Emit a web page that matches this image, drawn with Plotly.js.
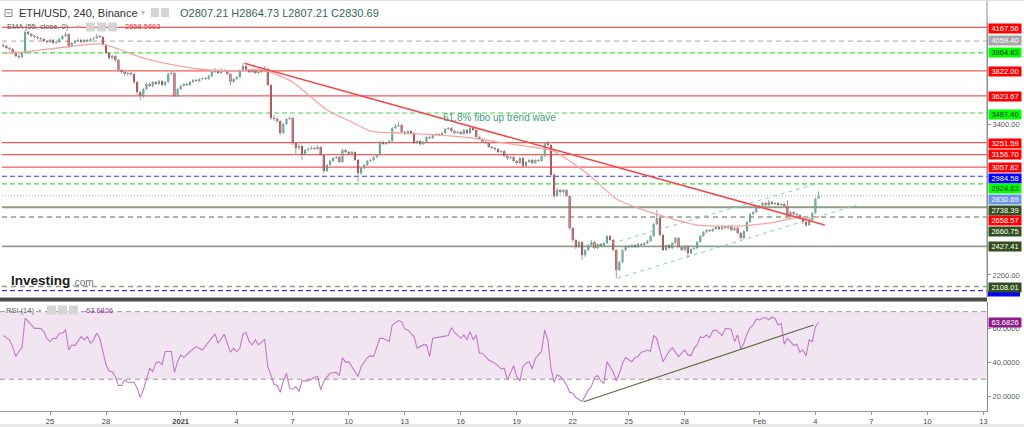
<!DOCTYPE html>
<html><head><meta charset="utf-8">
<script src="https://cdn.plot.ly/plotly-3.0.1.min.js"></script>
<style>html,body{margin:0;padding:0;background:#fff}#chart{width:1024px;height:427px}</style>
</head><body><div id="chart"></div>
<script>
// ---------- DATA ----------
const symbolTitle = 'ETH/USD, 240, Binance';
const firstBarUTC = [2020, 11, 22, 12]; // first 4h bar: 2020-12-22 12:00
const barHours = 4;

const open = [
4028,4020,4004,3996,3972,3940,3932,3964,4131,4115,
4099,4091,4083,4075,4060,4052,4068,4044,4052,4075,
4099,4115,4020,4044,4060,4068,4052,4068,4060,4075,
4083,4099,4091,4028,3964,3924,3940,3909,3829,3813,
3797,3805,3797,3734,3654,3622,3678,3718,3702,3734,
3718,3742,3710,3734,3797,3805,3622,3678,3702,3718,
3710,3734,3750,3742,3758,3765,3758,3781,3813,3829,
3805,3829,3821,3797,3734,3758,3773,3829,3861,3829,
3813,3821,3805,3813,3821,3837,3710,3448,3440,3424,
3328,3400,3440,3448,3249,3209,3225,3154,3193,3201,
3209,3201,3217,3154,3026,3074,3106,3130,3138,3098,
3193,3177,3162,3177,3114,3010,3050,3074,3106,3114,
3138,3154,3257,3241,3249,3265,3368,3384,3392,3336,
3328,3344,3328,3249,3265,3241,3257,3297,3289,3313,
3320,3313,3328,3360,3368,3344,3328,3336,3320,3352,
3328,3368,3352,3297,3281,3257,3249,3217,3209,3201,
3177,3185,3146,3130,3138,3106,3090,3130,3066,3098,
3114,3090,3114,3106,3146,3249,3233,2995,2828,2875,
2860,2875,2828,2573,2478,2422,2462,2358,2398,2438,
2462,2414,2446,2430,2454,2509,2478,2398,2239,2303,
2398,2430,2422,2438,2422,2446,2438,2454,2470,2509,
2605,2653,2517,2398,2438,2414,2454,2494,2422,2398,
2430,2374,2406,2414,2462,2509,2541,2557,2549,2565,
2581,2565,2581,2573,2589,2557,2573,2533,2494,2549,
2621,2684,2700,2732,2748,2772,2756,2780,2764,2772,
2756,2764,2748,2668,2700,2684,2676,2653,2621,2597,
2637,2692,2807.21];

const high = [
4040,4030,4012,4004,3980,3952,3972,4147,4139,4123,
4107,4099,4091,4083,4068,4076,4075,4060,4083,4107,
4131,4120,4052,4068,4080,4075,4076,4076,4083,4091,
4115,4107,4099,4036,3972,3952,3948,3917,3837,3821,
3813,3813,3805,3742,3662,3686,3726,3730,3742,3742,
3750,3750,3742,3805,3821,3813,3686,3710,3726,3726,
3742,3758,3758,3765,3773,3773,3789,3821,3845,3837,
3845,3837,3829,3805,3765,3781,3837,3885,3869,3837,
3829,3829,3821,3829,3861,3845,3718,3472,3456,3432,
3408,3448,3464,3456,3257,3241,3233,3201,3217,3225,
3217,3233,3225,3162,3082,3114,3138,3146,3146,3201,
3201,3185,3185,3185,3122,3058,3082,3114,3122,3146,
3162,3265,3265,3257,3273,3376,3400,3416,3400,3344,
3352,3352,3336,3273,3273,3265,3305,3305,3320,3328,
3328,3336,3368,3376,3376,3352,3344,3344,3360,3360,
3384,3376,3360,3305,3289,3265,3257,3225,3217,3209,
3193,3193,3154,3146,3146,3114,3138,3138,3106,3122,
3122,3122,3122,3154,3257,3265,3241,3010,2891,2883,
2883,2883,2836,2581,2486,2470,2470,2406,2446,2478,
2470,2454,2454,2462,2517,2517,2486,2406,2311,2406,
2438,2438,2446,2446,2454,2454,2462,2478,2517,2613,
2716,2660,2525,2446,2446,2462,2502,2502,2430,2438,
2438,2414,2422,2470,2517,2549,2565,2565,2573,2589,
2589,2597,2589,2597,2597,2581,2581,2541,2557,2629,
2692,2708,2740,2756,2780,2780,2796,2788,2780,2780,
2772,2772,2796,2708,2708,2692,2684,2660,2629,2645,
2700,2812,2864.73];

const low = [
4010,3995,3985,3962,3930,3916,3924,3956,4105,4090,
4080,4072,4064,4050,4040,4044,4036,4036,4044,4068,
4091,4004,4012,4036,4052,4044,4044,4050,4052,4068,
4075,4083,4020,3956,3909,3916,3893,3813,3797,3781,
3781,3781,3718,3630,3591,3606,3670,3694,3694,3710,
3710,3702,3702,3726,3789,3614,3614,3670,3694,3702,
3702,3726,3734,3734,3750,3750,3750,3773,3805,3797,
3797,3813,3789,3710,3726,3750,3765,3821,3821,3805,
3805,3797,3797,3805,3813,3702,3432,3424,3408,3313,
3320,3392,3432,3233,3154,3193,3114,3146,3185,3193,
3193,3193,3146,3010,3018,3066,3098,3122,3090,3090,
3169,3154,3154,3106,2939,2995,3042,3066,3098,3106,
3130,3146,3233,3233,3241,3257,3360,3376,3328,3313,
3320,3320,3241,3241,3225,3233,3249,3281,3281,3305,
3305,3305,3320,3352,3336,3320,3320,3313,3313,3320,
3320,3344,3289,3273,3249,3241,3209,3201,3185,3169,
3169,3138,3114,3122,3098,3074,3082,3058,3058,3090,
3082,3082,3098,3098,3138,3225,2979,2812,2820,2844,
2852,2820,2557,2462,2406,2414,2319,2343,2390,2430,
2406,2406,2422,2422,2446,2470,2390,2176,2231,2295,
2390,2414,2414,2414,2414,2430,2430,2446,2462,2502,
2597,2509,2390,2390,2406,2406,2446,2414,2390,2390,
2335,2366,2398,2406,2454,2502,2533,2541,2541,2557,
2557,2557,2565,2565,2549,2549,2525,2486,2486,2541,
2613,2676,2692,2724,2740,2748,2748,2756,2756,2748,
2748,2740,2653,2660,2676,2660,2645,2605,2581,2589,
2629,2684,2807.21];

const close = [
4020,4004,3996,3972,3940,3932,3964,4131,4115,4099,
4091,4083,4075,4060,4052,4068,4044,4052,4075,4099,
4115,4020,4044,4060,4068,4052,4068,4060,4075,4083,
4099,4091,4028,3964,3924,3940,3909,3829,3813,3797,
3805,3797,3734,3654,3622,3678,3718,3702,3734,3718,
3742,3710,3734,3797,3805,3622,3678,3702,3718,3710,
3734,3750,3742,3758,3765,3758,3781,3813,3829,3805,
3829,3821,3797,3734,3758,3773,3829,3861,3829,3813,
3821,3805,3813,3821,3837,3710,3448,3440,3424,3328,
3400,3440,3448,3249,3209,3225,3154,3193,3201,3209,
3201,3217,3154,3026,3074,3106,3130,3138,3098,3193,
3177,3162,3177,3114,3010,3050,3074,3106,3114,3138,
3154,3257,3241,3249,3265,3368,3384,3392,3336,3328,
3344,3328,3249,3265,3241,3257,3297,3289,3313,3320,
3313,3328,3360,3368,3344,3328,3336,3320,3352,3328,
3368,3352,3297,3281,3257,3249,3217,3209,3201,3177,
3185,3146,3130,3138,3106,3090,3130,3066,3098,3114,
3090,3114,3106,3146,3249,3233,2995,2828,2875,2860,
2875,2828,2573,2478,2422,2462,2358,2398,2438,2462,
2414,2446,2430,2454,2509,2478,2398,2239,2303,2398,
2430,2422,2438,2422,2446,2438,2454,2470,2509,2605,
2653,2517,2398,2438,2414,2454,2494,2422,2398,2430,
2374,2406,2414,2462,2509,2541,2557,2549,2565,2581,
2565,2581,2573,2589,2557,2573,2533,2494,2549,2621,
2684,2700,2732,2748,2772,2756,2780,2764,2772,2756,
2764,2748,2668,2700,2684,2676,2653,2621,2597,2637,
2692,2807.21,2830.69];

// EMA(55) at selected bars
const emaBar = [0,7,20,31,37,44,53,63,74,83,89,93,104,112,118,128,139,150,161,172,177,183,189,197,205,212,223,237,248,254,258,262];
const emaVal = [3964,3972,4012,4036,3996,3932,3877,3837,3821,3837,3781,3734,3511,3416,3344,3328,3313,3289,3249,3209,3185,3090,2979,2804,2724,2668,2597,2589,2621,2653,2653,2658.57];

// RSI(14) at selected bars
const rsiBar = [0,2,3,4,5,6,7,9,10,12,13,14,15,16,17,18,19,20,21,22,23,25,26,27,28,29,30,31,32,33,34,35,36,37,38,39,40,42,43,44,45,47,48,49,50,51,52,54,55,56,57,58,60,62,64,66,68,69,71,73,74,75,76,77,78,79,80,81,82,84,85,86,87,88,89,90,91,92,93,94,95,96,98,100,101,102,103,105,107,108,109,110,111,114,115,117,118,119,121,122,124,125,127,128,129,130,132,133,135,136,137,138,140,141,143,144,145,147,148,149,150,151,152,153,154,156,158,159,160,161,162,164,165,166,167,168,169,170,171,172,173,174,175,176,177,178,179,180,181,182,183,184,185,186,188,189,190,191,192,193,194,195,196,197,198,199,200,202,203,204,205,206,207,208,209,210,211,212,213,214,215,217,218,219,220,221,222,223,224,225,226,227,228,229,231,232,233,234,235,236,237,238,239,240,241,242,243,244,245,246,247,248,249,250,251,252,253,254,255,256,257,258,259,260,261,262];
const rsiVal = [55.8,53.3,49.3,43.4,46.4,48.7,66.1,62.1,60.1,60.1,58.2,54.2,52.3,54.2,54.2,57.2,57.2,59.2,47.3,50.3,49.9,55.2,53.3,55.2,51.3,53.3,57.2,54.2,46.4,38.5,34.9,34.5,31.6,26.3,26.3,29.6,28.2,28.2,24.7,19.2,23.7,36.5,34.5,39.5,40.4,38.5,46.4,46.4,34.1,40.4,44.4,42.8,46.4,49.3,47.3,52.3,56.8,51.3,56.6,46.0,48.3,46.4,48.3,56.6,57.8,52.3,50.3,53.3,50.3,53.6,37.5,32.6,27.0,26.3,22.3,29.0,33.5,24.7,24.1,25.7,22.7,29.0,29.0,31.0,31.6,23.7,29.0,33.5,34.1,32.2,42.8,40.0,40.4,31.6,37.5,42.8,43.8,43.4,54.2,54.2,52.3,62.1,64.7,64.1,59.8,59.2,55.2,48.3,50.3,50.3,43.4,54.2,54.6,55.2,55.8,60.5,57.8,54.2,56.2,53.3,58.2,53.3,56.2,45.4,45.4,41.4,39.5,37.5,36.1,36.5,29.6,38.0,31.6,29.0,37.5,39.5,40.4,36.1,42.4,44.4,46.7,59.2,53.3,36.5,28.2,32.6,31.6,29.6,26.7,22.3,21.7,19.2,17.8,16.8,23.7,25.7,31.0,32.2,29.0,27.6,40.4,37.5,34.5,29.0,33.5,39.5,42.8,40.4,42.8,43.4,46.0,46.4,47.3,46.4,55.8,54.2,47.3,40.4,43.4,46.7,48.7,43.4,45.4,47.3,44.4,44.0,48.3,50.3,55.2,54.6,56.2,54.6,58.6,59.2,55.8,59.8,60.1,59.2,52.3,56.2,47.9,51.3,56.6,60.5,62.1,65.7,65.1,66.1,66.5,65.1,66.7,66.1,62.1,63.1,50.7,54.2,52.3,49.9,50.7,46.0,47.3,43.8,53.3,52.3,61.1,63.68];
const rsiLast = 63.6826;
const emaLast = 2658.5663;
const rsiBands = [70, 30];

// Horizontal levels
const levelVals  = [4167.56, 4059.40, 3964.83, 3822.00, 3623.67, 3487.40, 3251.59, 3156.70, 3057.82, 2984.58, 2924.63, 2830.69, 2738.39, 2660.75, 2427.41, 2108.01, 2076.00];
const levelKinds = ['res','gray','fib','res','res','fib','res','res','res','blue','fib','last','sup','supd','sup','supd','blue'];

// Trend lines
const trendRedX = ['2021-01-04 10:00', '2021-02-04 12:00'];
const trendRedY = [3882, 2597];
const chanUpX = ['2021-01-24 02:00', '2021-02-04 03:20'];
const chanUpY = [2452, 2929];
const chanLoX = ['2021-01-24 09:20', '2021-02-06 05:00'];
const chanLoY = [2174, 2756];
const rsiTrendX = ['2021-01-22 14:10', '2021-02-03 21:40'];
const rsiTrendY = [16.7, 62.1];

// Axes ticks
const xTickDates = ['2020-12-25','2020-12-28','2021-01-01','2021-01-04','2021-01-07','2021-01-10','2021-01-13','2021-01-16','2021-01-19','2021-01-22','2021-01-25','2021-01-28','2021-02-01','2021-02-04','2021-02-07','2021-02-10','2021-02-13'];
const xTickText  = ['25','28','<b>2021</b>','4','7','10','13','16','19','22','25','28','Feb','4','7','10','13'];
const priceTicks = [2200, 3400];
const rsiTicks = [20, 40, 60];

// ---------- BUILD ----------
const FONT = 'Arial, "Liberation Sans", sans-serif';
const W = 987, H = 427;
const px = x => x / W;
const py = y => 1 - y / H;

const STEP = barHours * 3600 * 1000;
const T0 = Date.UTC(firstBarUTC[0], firstBarUTC[1], firstBarUTC[2], firstBarUTC[3]);
const times = close.map((_, i) => T0 + i * STEP);

const UP = '#2aa890', DOWN = '#b3161b', WICK = '#a0a0a0';

const wx = [], wy = [];
times.forEach((t, i) => { wx.push(t, t, null); wy.push(low[i], high[i], null); });

const bodyBase = close.map((c, i) => Math.min(c, open[i]));
const bodyH = close.map((c, i) => Math.max(Math.abs(c - open[i]), 5));
const bodyCol = close.map((c, i) => c >= open[i] ? UP : DOWN);

const traces = [
  {type:'scatter', mode:'lines', x:chanUpX, y:chanUpY, xaxis:'x', yaxis:'y', line:{color:'#86cfbb', width:1, dash:'4px,4px'}, hoverinfo:'skip'},
  {type:'scatter', mode:'lines', x:chanLoX, y:chanLoY, xaxis:'x', yaxis:'y', line:{color:'#86cfbb', width:1, dash:'4px,4px'}, hoverinfo:'skip'},
  {type:'scatter', mode:'lines', x:wx, y:wy, xaxis:'x', yaxis:'y', line:{color:WICK, width:1}, hoverinfo:'skip', connectgaps:false},
  {type:'bar', x:times, y:bodyH, base:bodyBase, width:STEP*0.66, xaxis:'x', yaxis:'y', marker:{color:bodyCol, line:{width:0}}, hoverinfo:'skip'},
  {type:'scatter', mode:'lines', x:emaBar.map(i => times[i]), y:emaVal, xaxis:'x', yaxis:'y', line:{color:'#f6a3a3', width:1.3, shape:'spline', smoothing:0.6}, hoverinfo:'skip'},
  {type:'scatter', mode:'lines', x:trendRedX, y:trendRedY, xaxis:'x', yaxis:'y', line:{color:'#f04a4a', width:1.6}, hoverinfo:'skip'},
  {type:'scatter', mode:'lines', x:rsiBar.map(i => times[i]), y:rsiVal, xaxis:'x2', yaxis:'y2', line:{color:'#c377c9', width:1.1}, hoverinfo:'skip'},
  {type:'scatter', mode:'lines', x:rsiTrendX, y:rsiTrendY, xaxis:'x2', yaxis:'y2', line:{color:'#5b6e3c', width:1.2}, hoverinfo:'skip'}
];

const kindStyle = {
  res:  {color:'#f25a5a', dash:'solid',   width:1.3, box:'#ff0000', txt:'#ffffff'},
  gray: {color:'#b8b8b8', dash:'5px,4px', width:1.2, box:'#a6a6a6', txt:'#ffffff'},
  fib:  {color:'#3fdc3f', dash:'5px,3px', width:1.2, box:'#00ff00', txt:'#2a2a2a'},
  blue: {color:'#3434ea', dash:'5px,3px', width:1.2, box:'#0000ff', txt:'#ffffff'},
  last: {color:'#a5b8f2', dash:'1px,2px', width:1.2, box:'#6d93e8', txt:'#ffffff'},
  sup:  {color:'#909e88', dash:'solid',   width:1.8, box:'#334f1f', txt:'#ffffff'},
  supd: {color:'#909e88', dash:'5px,4px', width:1.5, box:'#334f1f', txt:'#ffffff'}
};
const labelShift = [-1, 1, 0, -1, -1, -1, -1, 0, 0, -2, -5, -3.5, -3, -14, 0, -1, 0];

const shapes = [];
// RSI band fill + dashed bands
shapes.push({type:'rect', xref:'x2 domain', x0:0, x1:1, yref:'y2', y0:rsiBands[1], y1:rsiBands[0], fillcolor:'#f2e5f2', line:{width:0}, layer:'below'});
rsiBands.forEach(v => shapes.push({type:'line', xref:'x2 domain', x0:0, x1:1, yref:'y2', y0:v, y1:v, line:{color:'#9a9a9a', width:1, dash:'5px,4px'}, layer:'below'}));
// price levels
levelVals.forEach((v, i) => {
  const s = kindStyle[levelKinds[i]];
  shapes.push({type:'line', xref:'x domain', x0:0.002, x1:1, yref:'y', y0:v, y1:v, line:{color:s.color, width:s.width, dash:s.dash}, layer:'below'});
});
// lowest blue level: only the lower edge of its tag shows below the 2108.01 tag
shapes.push({type:'rect', xref:'paper', x0:1 + px(1), x1:1 + px(33), yref:'paper', y0:py(296.5), y1:py(291), fillcolor:'#0000ff', line:{width:0}});
// panel separator, frame lines
shapes.push({type:'rect', xref:'paper', x0:0, x1:1, yref:'paper', y0:py(301.5), y1:py(297.5), fillcolor:'#4b4b4b', line:{width:0}});
shapes.push({type:'line', xref:'paper', x0:1, x1:1, yref:'paper', y0:py(297), y1:1, line:{color:'#8c8c8c', width:1}});
shapes.push({type:'line', xref:'paper', x0:0, x1:1.04, yref:'paper', y0:py(0.5), y1:py(0.5), line:{color:'#dddddd', width:1}});
shapes.push({type:'rect', xref:'paper', x0:0, x1:1.04, yref:'paper', y0:0, y1:py(424), fillcolor:'#e9e9e9', line:{width:0}});
// header icons
const iconBox = (x, y, w, h) => shapes.push({type:'rect', xref:'paper', yref:'paper', x0:px(x), x1:px(x+w), y0:py(y+h), y1:py(y), fillcolor:'#d4d4d4', line:{width:0}});
shapes.push({type:'rect', xref:'paper', yref:'paper', x0:px(5), x1:px(12), y0:py(16.5), y1:py(9.5), line:{color:'#888', width:1}, fillcolor:'rgba(0,0,0,0)'});
shapes.push({type:'line', xref:'paper', yref:'paper', x0:px(6.5), x1:px(10.5), y0:py(13), y1:py(13), line:{color:'#888', width:1}});
iconBox(151, 8, 8, 9); iconBox(161, 8, 8, 9);
iconBox(86, 22.5, 9, 9); iconBox(97, 22.5, 9, 9); iconBox(108, 22.5, 9, 9);
iconBox(47, 305.5, 9, 9); iconBox(58, 305.5, 9, 9); iconBox(69, 305.5, 9, 9);

const ann = [];
const txt = (x, y, text, size, color, extra) => ann.push(Object.assign({xref:'paper', yref:'paper', x:px(x), y:py(y), xanchor:'left', yanchor:'middle', text, showarrow:false, font:{family:FONT, size, color}}, extra || {}));
txt(17, 13, symbolTitle, 11, '#333333');
txt(139, 12, '▾', 8, '#bbbbbb');
txt(178, 13, 'O' + open[open.length-1].toFixed(2) + ' H' + high[high.length-1].toFixed(2) + ' L' + low[low.length-1].toFixed(2) + ' C' + close[close.length-1].toFixed(2), 11, '#35685a');
txt(5, 27, 'EMA (55, close, 0)', 7.5, '#5a5a5a');
txt(74, 27, '▾', 7, '#bbbbbb');
txt(123, 27, emaLast.toFixed(4), 7.5, '#ee3030');
txt(4, 310, 'RSI (14)', 7.5, '#5a5a5a');
txt(36, 310, '▾', 7, '#bbbbbb');
txt(84, 310, rsiLast.toFixed(4), 7.5, '#9a2c98');
txt(441, 118, '61.8% fibo up trend wave', 10, '#3f9c84');
txt(9, 280, '<b>Investing</b>', 13.5, '#1c1c1c');
txt(70, 282.5, '.com', 10, '#707070');

// right-side price labels
const boxLabel = (yref, v, shift, bg, fg) => ann.push({xref:'paper', x:1, xanchor:'left', xshift:1, yref, y:v, yanchor:'middle', yshift:shift,
  text:v.toFixed(yref === 'y2' ? 4 : 2), showarrow:false, bgcolor:bg, width:32, height:9, borderpad:0, align:'center', valign:'middle',
  font:{family:FONT, size:7.5, color:fg}});
levelVals.forEach((v, i) => {
  if (i === levelVals.length - 1) return;
  const s = kindStyle[levelKinds[i]];
  boxLabel('y', v, labelShift[i], s.box, s.txt);
});
boxLabel('y', Math.round(emaLast*100)/100, -3, '#ff0000', '#ffffff');
boxLabel('y2', rsiLast, 0, '#8c1c8a', '#ffffff');

const layout = {
  width:1024, height:427,
  margin:{l:0, r:37, t:0, b:0, pad:0},
  paper_bgcolor:'#ffffff', plot_bgcolor:'#ffffff',
  showlegend:false, hovermode:false, dragmode:false, barmode:'overlay',
  font:{family:FONT, size:7.5, color:'#555'},
  xaxis:{domain:[0,1], anchor:'y', type:'date', range:['2020-12-22 07:43','2021-02-13 04:35'], showticklabels:false, showgrid:false, zeroline:false, showline:false, ticks:''},
  yaxis:{domain:[py(297), py(22)], anchor:'x', side:'right', range:[2025.1, 4210.6], showgrid:false, zeroline:false, showline:true, linecolor:'#8c8c8c', linewidth:1,
         tickvals:priceTicks, ticktext:priceTicks.map(v => v.toFixed(2)), ticks:'outside', ticklen:3, tickcolor:'#8c8c8c', tickfont:{family:FONT, size:7.5, color:'#555'}},
  xaxis2:{domain:[0,1], anchor:'y2', type:'date', range:['2020-12-22 07:43','2021-02-13 04:35'], showgrid:false, zeroline:false, showline:true, linecolor:'#9a9a9a', linewidth:1,
          tickvals:xTickDates, ticktext:xTickText, ticks:'outside', ticklen:3, tickcolor:'#9a9a9a', tickfont:{family:FONT, size:7.5, color:'#444'}},
  yaxis2:{domain:[py(411), py(302)], anchor:'x2', side:'right', range:[11.2, 75.7], showgrid:false, zeroline:false, showline:true, linecolor:'#8c8c8c', linewidth:1,
          tickvals:rsiTicks, ticktext:rsiTicks.map(v => v.toFixed(4)), ticks:'outside', ticklen:3, tickcolor:'#8c8c8c', ticklabelshift:-1.5, tickfont:{family:FONT, size:7.5, color:'#555'}},
  shapes, annotations:ann
};

Plotly.newPlot('chart', traces, layout, {staticPlot:true, displayModeBar:false});
</script>
</body></html>
